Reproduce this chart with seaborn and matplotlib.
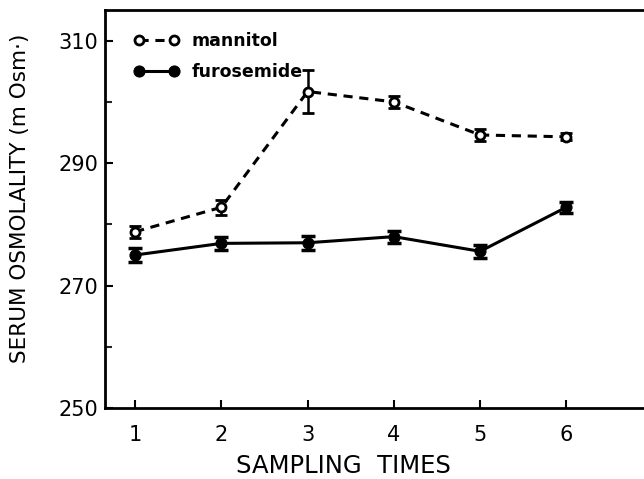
import matplotlib
matplotlib.use("Agg")
import matplotlib.pyplot as plt
import seaborn as sns
import pandas as pd
from matplotlib.ticker import MultipleLocator

times = [1, 2, 3, 4, 5, 6]
mannitol = [278.8, 282.8, 301.7, 300.0, 294.6, 294.3]
mannitol_err = [1.0, 1.2, 3.5, 1.0, 1.0, 0.6]
furosemide = [275.0, 276.9, 277.0, 278.0, 275.6, 282.8]
furosemide_err = [1.2, 1.1, 1.1, 1.0, 1.1, 0.9]
ytick_labels = ["250", "270", "290", "310"]

sns.set_theme(style="white")
plt.rcParams['font.family'] = ['DejaVu Sans']
plt.rcParams['text.color'] = 'black'

df = pd.DataFrame({
    "time": times * 2,
    "value": mannitol + furosemide,
    "group": ["mannitol"] * 6 + ["furosemide"] * 6,
})

fig = plt.figure(figsize=(6.44, 4.79), dpi=100)
ax = fig.add_axes([0.163, 0.148, 0.845, 0.831])

ax.errorbar(times, mannitol, yerr=mannitol_err, fmt="none", ecolor="black",
            elinewidth=1.8, capsize=4, capthick=2, zorder=2)
ax.errorbar(times, furosemide, yerr=furosemide_err, fmt="none", ecolor="black",
            elinewidth=2.5, capsize=5, capthick=2.5, zorder=2)

sns.lineplot(data=df[df.group == "mannitol"], x="time", y="value", ax=ax,
             color="black", linestyle=(0, (3, 2.2)), linewidth=2.2,
             marker="o", markersize=6.5, markerfacecolor="white",
             markeredgecolor="black", markeredgewidth=2, label="mannitol",
             zorder=3)
sns.lineplot(data=df[df.group == "furosemide"], x="time", y="value", ax=ax,
             color="black", linestyle="-", linewidth=2.2,
             marker="o", markersize=8, markerfacecolor="black",
             markeredgecolor="black", label="furosemide", zorder=3)

ax.set_xlim(0.65, 6.96)
ax.set_ylim(250, 315)
ax.set_xticks(times)
ax.set_xticklabels([str(t) for t in times])
ax.set_yticks([250, 270, 290, 310])
ax.set_yticklabels(ytick_labels)
ax.yaxis.set_minor_locator(MultipleLocator(10))

ax.tick_params(axis="both", which="major", direction="in", length=6, width=1.5,
               labelsize=15, colors="black", pad=5, left=True, bottom=True)
ax.tick_params(axis="y", which="minor", direction="in", length=5, width=1.5,
               left=True)
ax.tick_params(axis="x", pad=12)

for s in ["left", "bottom", "top"]:
    ax.spines[s].set_visible(True)
    ax.spines[s].set_color("black")
    ax.spines[s].set_linewidth(2)
ax.spines["right"].set_visible(False)

ax.set_xlabel("SAMPLING  TIMES", fontsize=17.5, color="black")
ax.xaxis.set_label_coords(0.4375, -0.115)
ax.set_ylabel("SERUM OSMOLALITY (m Osm·)", fontsize=15.5, color="black")
ax.yaxis.set_label_coords(-0.138, 0.528)

leg = ax.legend(loc="upper left", frameon=False, fontsize=12.5, numpoints=2,
                handlelength=2.6, bbox_to_anchor=(0.025, 0.985),
                labelspacing=0.75, handletextpad=0.7)
for t in leg.get_texts():
    t.set_fontweight("bold")
    t.set_color("black")

fig.savefig("out.png", dpi=100, facecolor="white")
